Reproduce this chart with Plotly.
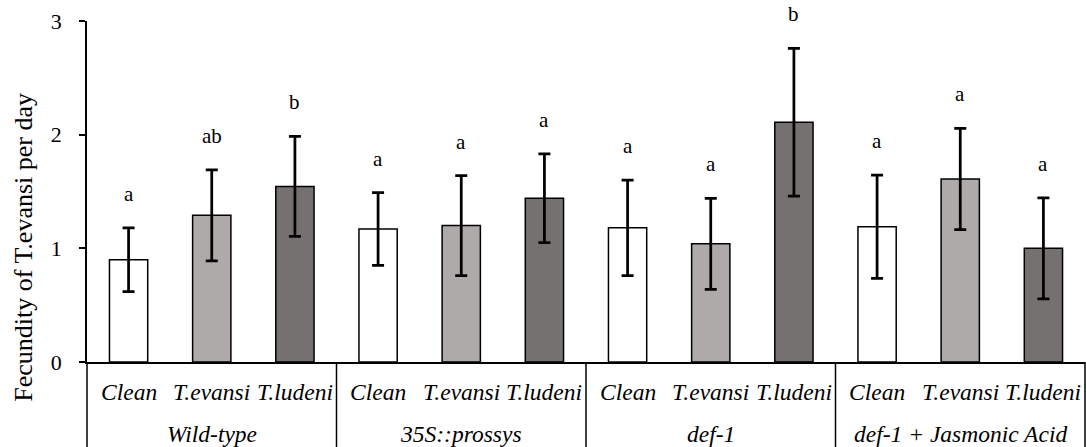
import plotly.graph_objects as go

# Data: mean fecundity with symmetric error, per host plant and infestation treatment
groups = ["Wild-type", "35S::prossys", "def-1", "def-1 + Jasmonic Acid"]
treatments = ["Clean", "T.evansi", "T.ludeni"]
treatment_colors = ["#FFFFFF", "#AEAAAA", "#767171"]

means = [0.90, 1.29, 1.545,
         1.17, 1.20, 1.44,
         1.18, 1.04, 2.11,
         1.19, 1.61, 1.00]
errors = [0.28, 0.40, 0.44,
          0.32, 0.44, 0.39,
          0.42, 0.40, 0.65,
          0.455, 0.445, 0.445]
letters = ["a", "ab", "b",
           "a", "a", "a",
           "a", "a", "b",
           "a", "a", "a"]

n_t = len(treatments)
n_g = len(groups)
xs = list(range(n_g * n_t))
colors = [treatment_colors[i % n_t] for i in xs]

FONT = "Liberation Serif, Times New Roman, serif"

fig = go.Figure()
fig.add_trace(go.Bar(
    x=xs, y=means,
    marker=dict(color=colors, line=dict(color="#000000", width=1.5)),
    error_y=dict(type="data", array=errors, visible=True,
                 color="#000000", thickness=2.75, width=6),
    showlegend=False,
    hoverinfo="skip",
))

annotations = []
# significance letters above the error bars
for x, m, e, t in zip(xs, means, errors, letters):
    annotations.append(dict(
        x=x, y=m + e, xref="x", yref="y", text=t, showarrow=False,
        yanchor="middle", yshift=34,
        font=dict(family=FONT, size=21, color="#000000"),
    ))
# treatment labels (first row under the axis)
for x in xs:
    annotations.append(dict(
        x=x, y=0, xref="x", yref="paper", text=treatments[x % n_t],
        showarrow=False, yanchor="middle", yshift=-30,
        font=dict(family=FONT, size=23.5, color="#000000", style="italic"),
    ))
# group labels (second row)
for g, name in enumerate(groups):
    annotations.append(dict(
        x=g * n_t + (n_t - 1) / 2, y=0, xref="x", yref="paper", text=name,
        showarrow=False, yanchor="middle", yshift=-72,
        font=dict(family=FONT, size=23.5, color="#000000", style="italic"),
    ))
# y-axis title
annotations.append(dict(
    x=0, y=0.335, xref="paper", yref="paper",
    text="Fecundity of T.evansi per day", textangle=-90, showarrow=False,
    xanchor="center", yanchor="middle", xshift=-63,
    font=dict(family=FONT, size=26, color="#000000"),
))

# vertical dividers of the category table below the axis
shapes = []
for g in range(n_g + 1):
    shapes.append(dict(
        type="line", xref="paper", yref="paper",
        x0=g / n_g, x1=g / n_g, y0=-0.26, y1=0,
        line=dict(color="#000000", width=1.5),
    ))

fig.update_layout(
    width=1086, height=447,
    margin=dict(l=87, r=1, t=21, b=85),
    paper_bgcolor="#FFFFFF", plot_bgcolor="#FFFFFF",
    bargap=0.54,
    font=dict(family=FONT, color="#000000"),
    annotations=annotations,
    shapes=shapes,
    xaxis=dict(
        range=[-0.5, len(xs) - 0.5], showticklabels=False, ticks="",
        showgrid=False, zeroline=False,
        showline=True, linecolor="#000000", linewidth=1.5,
    ),
    yaxis=dict(
        range=[0, 3], tickvals=[0, 1, 2, 3], ticks="outside",
        ticklen=6, tickwidth=1.5, tickcolor="#000000",
        ticklabelstandoff=13,
        tickfont=dict(family=FONT, size=22, color="#000000"),
        showgrid=False, zeroline=False,
        showline=True, linecolor="#000000", linewidth=1.5,
    ),
)

fig.write_html("out.html")
